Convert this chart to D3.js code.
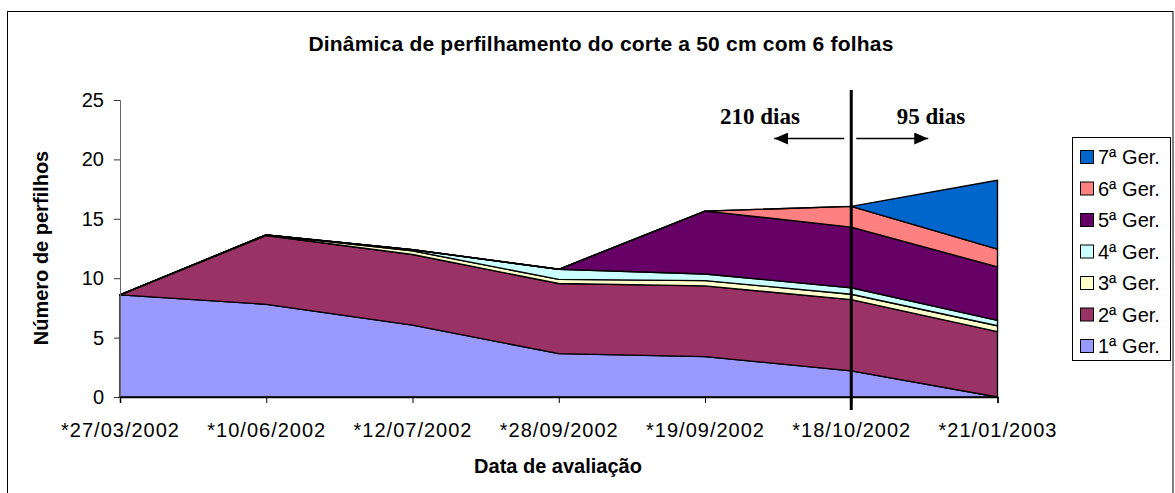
<!DOCTYPE html>
<html>
<head>
<meta charset="utf-8">
<script src="https://cdn.jsdelivr.net/npm/d3@7"></script>
<style>
  body { margin: 0; background: #fff; }
  svg { display: block; font-family: "Liberation Sans", Arial, sans-serif; }
</style>
</head>
<body>
<div id="chart"></div>
<script>
// chart data
var categories = ["*27/03/2002", "*10/06/2002", "*12/07/2002", "*28/09/2002", "*19/09/2002", "*18/10/2002", "*21/01/2003"];
var ger1 = [8.6, 7.8, 6.05, 3.65, 3.4, 2.2, 0];
var ger2 = [0, 5.8, 5.95, 5.9, 5.95, 6.0, 5.5];
var ger3 = [0, 0.05, 0.3, 0.35, 0.45, 0.45, 0.5];
var ger4 = [0, 0, 0.1, 0.85, 0.55, 0.55, 0.45];
var ger5 = [0, 0, 0, 0, 5.3, 5.1, 4.5];
var ger6 = [0, 0, 0, 0, 0, 1.75, 1.5];
var ger7 = [0, 0, 0, 0, 0, 0, 5.8];
var seriesNames = ["1ª Ger.", "2ª Ger.", "3ª Ger.", "4ª Ger.", "5ª Ger.", "6ª Ger.", "7ª Ger."];
var seriesColors = ["#9999FF", "#993366", "#FFFFCC", "#CCFFFF", "#660066", "#FF8080", "#0066CC"];
var yTicks = [0, 5, 10, 15, 20, 25];

// layout
var width = 1175;
var height = 493;
var plot = {left: 120, right: 997.5, top: 100, bottom: 397};
var cutIndex = 5; // the cut date, marked with a vertical line

var svg = d3.select("#chart")
    .append("svg")
    .attr("width", width)
    .attr("height", height);

// outer frame
svg.append("rect")
    .attr("x", 7.5)
    .attr("y", 11.5)
    .attr("width", 1165.5)
    .attr("height", 500)
    .attr("fill", "none")
    .attr("stroke", "#000")
    .attr("stroke-width", 1);

// build table for the stack
var allSeries = [ger1, ger2, ger3, ger4, ger5, ger6, ger7];
var table = categories.map(function(c, i) {
    var row = {cat: c};
    seriesNames.forEach(function(s, k) { row[s] = allSeries[k][i]; });
    return row;
});
var stacked = d3.stack().keys(seriesNames)(table);

var x = d3.scalePoint().domain(categories).range([plot.left, plot.right]);
var y = d3.scaleLinear().domain([0, 25]).range([plot.bottom, plot.top]);

var area = d3.area()
    .x(function(d) { return x(d.data.cat); })
    .y0(function(d) { return y(d[0]); })
    .y1(function(d) { return y(d[1]); });

svg.append("g")
    .selectAll("path")
    .data(stacked)
    .enter().append("path")
    .attr("d", area)
    .attr("fill", function(d, i) { return seriesColors[i]; })
    .attr("stroke", "#000")
    .attr("stroke-width", 1.4)
    .attr("stroke-linejoin", "round");

// y axis
var yAxis = svg.append("g")
    .attr("transform", "translate(" + plot.left + ",0)")
    .call(d3.axisLeft(y).tickValues(yTicks).tickSize(6).tickPadding(10));
yAxis.select(".domain").attr("stroke", "#666");
yAxis.selectAll(".tick line").attr("stroke", "#333");
yAxis.selectAll("text").attr("font-size", 20).attr("fill", "#000")
    .attr("font-family", "Liberation Sans, Arial, sans-serif");

// x axis
var xAxis = svg.append("g")
    .attr("transform", "translate(0," + plot.bottom + ")")
    .call(d3.axisBottom(x).tickSize(6).tickPadding(20));
xAxis.select(".domain").attr("stroke", "#000").attr("stroke-width", 1.5);
xAxis.selectAll(".tick line").attr("stroke", "#000");
xAxis.selectAll("text").attr("font-size", 20).attr("fill", "#000")
    .attr("letter-spacing", 1)
    .attr("font-family", "Liberation Sans, Arial, sans-serif");

// titles
svg.append("text")
    .attr("x", 601)
    .attr("y", 51)
    .attr("text-anchor", "middle")
    .attr("font-size", 21)
    .attr("font-weight", "bold")
    .attr("letter-spacing", 0.2)
    .text("Dinâmica de perfilhamento do corte a 50 cm com 6 folhas");

svg.append("text")
    .attr("x", 558)
    .attr("y", 473)
    .attr("text-anchor", "middle")
    .attr("font-size", 20)
    .attr("font-weight", "bold")
    .text("Data de avaliação");

svg.append("text")
    .attr("transform", "translate(48,248) rotate(-90)")
    .attr("text-anchor", "middle")
    .attr("font-size", 20)
    .attr("font-weight", "bold")
    .text("Número de perfilhos");

// cut line and day annotations
var cutX = x(categories[cutIndex]);
svg.append("line")
    .attr("x1", cutX).attr("x2", cutX)
    .attr("y1", 90).attr("y2", 410)
    .attr("stroke", "#000")
    .attr("stroke-width", 3);

svg.append("defs").append("marker")
    .attr("id", "arrowHead")
    .attr("viewBox", "0 -6 14 12")
    .attr("refX", 14)
    .attr("refY", 0)
    .attr("markerWidth", 14)
    .attr("markerHeight", 12)
    .attr("markerUnits", "userSpaceOnUse")
    .attr("orient", "auto")
    .append("path")
    .attr("d", "M0,-6L14,0L0,6Z")
    .attr("fill", "#000");

svg.append("line")
    .attr("x1", cutX - 7).attr("x2", cutX - 77)
    .attr("y1", 138.5).attr("y2", 138.5)
    .attr("stroke", "#000").attr("stroke-width", 1.5)
    .attr("marker-end", "url(#arrowHead)");
svg.append("line")
    .attr("x1", cutX + 5).attr("x2", cutX + 77)
    .attr("y1", 138.5).attr("y2", 138.5)
    .attr("stroke", "#000").attr("stroke-width", 1.5)
    .attr("marker-end", "url(#arrowHead)");

svg.append("text")
    .attr("x", 760).attr("y", 124)
    .attr("text-anchor", "middle")
    .attr("font-family", "Liberation Serif, Times New Roman, serif")
    .attr("font-size", 23)
    .attr("font-weight", "bold")
    .text("210 dias");
svg.append("text")
    .attr("x", 931).attr("y", 124)
    .attr("text-anchor", "middle")
    .attr("font-family", "Liberation Serif, Times New Roman, serif")
    .attr("font-size", 23)
    .attr("font-weight", "bold")
    .text("95 dias");

// legend, newest generation on top
var legend = svg.append("g").attr("transform", "translate(1072,137)");
legend.append("rect")
    .attr("x", 0.5).attr("y", 0.5)
    .attr("width", 98).attr("height", 223)
    .attr("fill", "#fff")
    .attr("stroke", "#000")
    .attr("stroke-width", 1);

var legendItems = seriesNames.map(function(s, i) { return {name: s, color: seriesColors[i]}; }).reverse();
var item = legend.selectAll("g.item")
    .data(legendItems)
    .enter().append("g")
    .attr("class", "item")
    .attr("transform", function(d, i) { return "translate(0," + (20 + i * 31.5) + ")"; });
item.append("rect")
    .attr("x", 8.5).attr("y", -6.5)
    .attr("width", 13).attr("height", 13)
    .attr("fill", function(d) { return d.color; })
    .attr("stroke", "#000");
item.append("text")
    .attr("x", 26)
    .attr("y", 7)
    .attr("font-size", 20)
    .text(function(d) { return d.name; });
</script>
</body>
</html>
